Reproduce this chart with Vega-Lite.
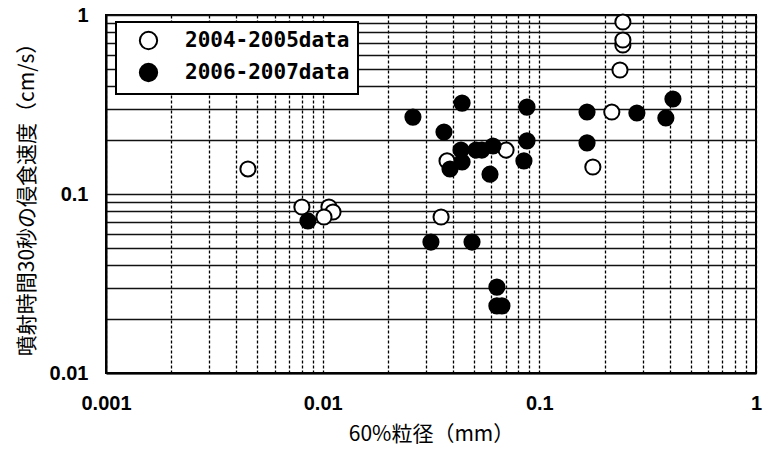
{
  "$schema": "https://vega.github.io/schema/vega-lite/v6.json",
  "width": 650,
  "height": 358,
  "autosize": "none",
  "padding": {"left": 106, "top": 15, "right": 14, "bottom": 80},
  "background": "white",
  "config": {
    "view": {"stroke": "black", "strokeWidth": 2},
    "legend": {"strokeWidth": 2},
    "axis": {"labelFont": "Liberation Sans", "labelFontSize": 20, "labelFontWeight": "bold", "labelColor": "black", "titleFont": "Noto Sans CJK JP", "titleFontSize": 21, "titleFontWeight": "normal", "titleColor": "black", "ticks": false, "domainColor": "black", "domainWidth": 2}
  },
  "data": {
    "values": [
      {"series": "2004-2005data", "d60": 0.00452, "rate": 0.138},
      {"series": "2004-2005data", "d60": 0.00802, "rate": 0.0846},
      {"series": "2004-2005data", "d60": 0.01069, "rate": 0.0846},
      {"series": "2004-2005data", "d60": 0.01116, "rate": 0.0793},
      {"series": "2004-2005data", "d60": 0.01014, "rate": 0.0744},
      {"series": "2004-2005data", "d60": 0.0352, "rate": 0.0744},
      {"series": "2004-2005data", "d60": 0.0375, "rate": 0.153},
      {"series": "2004-2005data", "d60": 0.0702, "rate": 0.176},
      {"series": "2004-2005data", "d60": 0.243, "rate": 0.914},
      {"series": "2004-2005data", "d60": 0.243, "rate": 0.68},
      {"series": "2004-2005data", "d60": 0.243, "rate": 0.725},
      {"series": "2004-2005data", "d60": 0.2356, "rate": 0.493},
      {"series": "2004-2005data", "d60": 0.216, "rate": 0.287},
      {"series": "2004-2005data", "d60": 0.1766, "rate": 0.1415},
      {"series": "2006-2007data", "d60": 0.00855, "rate": 0.0707},
      {"series": "2006-2007data", "d60": 0.0261, "rate": 0.269},
      {"series": "2006-2007data", "d60": 0.044, "rate": 0.322},
      {"series": "2006-2007data", "d60": 0.0877, "rate": 0.306},
      {"series": "2006-2007data", "d60": 0.0363, "rate": 0.222},
      {"series": "2006-2007data", "d60": 0.0877, "rate": 0.198},
      {"series": "2006-2007data", "d60": 0.0435, "rate": 0.176},
      {"series": "2006-2007data", "d60": 0.051, "rate": 0.176},
      {"series": "2006-2007data", "d60": 0.0543, "rate": 0.176},
      {"series": "2006-2007data", "d60": 0.0611, "rate": 0.1854},
      {"series": "2006-2007data", "d60": 0.0387, "rate": 0.138},
      {"series": "2006-2007data", "d60": 0.044, "rate": 0.151},
      {"series": "2006-2007data", "d60": 0.0849, "rate": 0.153},
      {"series": "2006-2007data", "d60": 0.0592, "rate": 0.129},
      {"series": "2006-2007data", "d60": 0.0316, "rate": 0.0539},
      {"series": "2006-2007data", "d60": 0.0489, "rate": 0.0539},
      {"series": "2006-2007data", "d60": 0.0637, "rate": 0.0302},
      {"series": "2006-2007data", "d60": 0.0637, "rate": 0.0237},
      {"series": "2006-2007data", "d60": 0.0672, "rate": 0.0237},
      {"series": "2006-2007data", "d60": 0.166, "rate": 0.287},
      {"series": "2006-2007data", "d60": 0.282, "rate": 0.2835},
      {"series": "2006-2007data", "d60": 0.4136, "rate": 0.3395},
      {"series": "2006-2007data", "d60": 0.3837, "rate": 0.266},
      {"series": "2006-2007data", "d60": 0.166, "rate": 0.193}
    ]
  },
  "mark": {"type": "point", "shape": "circle", "filled": true, "stroke": "black", "strokeWidth": 2, "size": 230, "opacity": 1},
  "encoding": {
    "x": {
      "field": "d60", "type": "quantitative", "title": "60%粒径（mm）",
      "scale": {"type": "log", "domain": [0.001, 1], "nice": false},
      "axis": {
        "values": [0.001,0.002,0.003,0.004,0.005,0.006,0.007,0.008,0.009,0.01,0.02,0.03,0.04,0.05,0.06,0.07,0.08,0.09,0.1,0.2,0.3,0.4,0.5,0.6,0.7,0.8,0.9,1],
        "labelExpr": "(datum.value == 0.001 || datum.value == 0.01 || datum.value == 0.1 || datum.value == 1) ? datum.value + '' : ''",
        "grid": true, "gridColor": "black", "gridDash": [3, 2], "gridWidth": 1.3,
        "labelPadding": 20, "titlePadding": 10, "labelFlush": false
      }
    },
    "y": {
      "field": "rate", "type": "quantitative", "title": "噴射時間30秒の侵食速度（cm/s）",
      "scale": {"type": "log", "domain": [0.01, 1], "nice": false},
      "axis": {
        "values": [0.01,0.02,0.03,0.04,0.05,0.06,0.07,0.08,0.09,0.1,0.2,0.3,0.4,0.5,0.6,0.7,0.8,0.9,1],
        "labelExpr": "(datum.value == 0.01 || datum.value == 0.1 || datum.value == 1) ? datum.value + '' : ''",
        "grid": true, "gridColor": "#111", "gridWidth": 1.5,
        "labelPadding": 18, "titlePadding": 12, "labelFlush": false
      }
    },
    "fill": {
      "field": "series", "type": "nominal",
      "scale": {"domain": ["2004-2005data", "2006-2007data"], "range": ["white", "black"]},
      "legend": {
        "title": null, "orient": "none", "legendX": 10, "legendY": 7,
        "direction": "vertical",
        "fillColor": "white", "strokeColor": "black",
        "padding": 8, "symbolType": "circle", "symbolSize": 300,
        "symbolStrokeColor": "black", "symbolStrokeWidth": 2,
        "symbolOffset": 14, "labelOffset": 26,
        "labelFont": "DejaVu Sans Mono", "labelFontWeight": "bold", "labelFontSize": 21, "labelColor": "black",
        "rowPadding": 5, "labelLimit": 300
      }
    }
  }
}
